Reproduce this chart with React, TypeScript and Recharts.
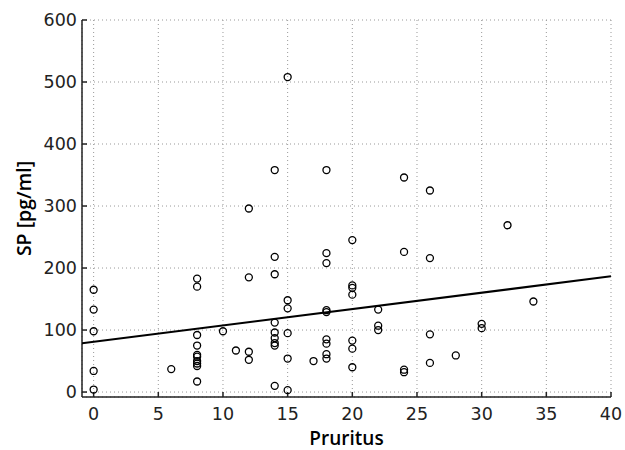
import React from "react";
import {
  CartesianGrid,
  Label,
  Scatter,
  ScatterChart,
  XAxis,
  YAxis,
} from "recharts";

// pruritus score per patient, with matching substance P level (pg/ml)
const PRURITUS = [
  0, 0, 0, 0, 0,
  6,
  8, 8, 8, 8, 8, 8, 8, 8, 8, 8,
  10, 11,
  12, 12, 12, 12,
  14, 14, 14, 14, 14, 14, 14, 14, 14,
  15, 15, 15, 15, 15, 15,
  17,
  18, 18, 18, 18, 18, 18, 18, 18, 18,
  20, 20, 20, 20, 20, 20, 20,
  22, 22, 22,
  24, 24, 24, 24,
  26, 26, 26, 26,
  28, 30, 30, 32, 34,
];
const SP = [
  165, 133, 98, 34, 4,
  37,
  183, 170, 92, 75, 60, 57, 50, 46, 42, 17,
  98, 67,
  296, 185, 65, 52,
  358, 218, 190, 112, 96, 87, 79, 75, 10,
  508, 148, 135, 95, 54, 3,
  50,
  358, 224, 208, 132, 129, 85, 78, 61, 54,
  245, 172, 168, 157, 83, 70, 40,
  133, 107, 100,
  346, 226, 36, 32,
  325, 216, 93, 47,
  59, 110, 103, 269, 146,
];

// linear fit endpoints, drawn edge to edge
const FIT_X = [-0.9, 40];
const FIT_Y = [78.6, 186.6];

const X_TICKS = [0, 5, 10, 15, 20, 25, 30, 35, 40];
const Y_TICKS = [0, 100, 200, 300, 400, 500, 600];

const points = PRURITUS.map((x, i) => ({ x, y: SP[i] }));
const fit = FIT_X.map((x, i) => ({ x, y: FIT_Y[i] }));

const FONT = "'Open Sans', sans-serif";
const TICK_FONT = "'DejaVu Sans', sans-serif";
const AXIS = "#222";

const Ring = (props: any) => (
  <circle cx={props.cx} cy={props.cy} r={3.5} fill="none" stroke="#000" strokeWidth={1.3} />
);

const XTick = (props: any) => (
  <text x={props.x} y={props.y} dy="0.71em" textAnchor="middle" fontFamily={TICK_FONT} fontSize={17.5} fill="#222">
    {props.payload.value}
  </text>
);

const YTick = (props: any) => (
  <text x={props.x} y={props.y} dy="0.36em" textAnchor="end" fontFamily={TICK_FONT} fontSize={17.5} fill="#222">
    {props.payload.value}
  </text>
);

export default function App() {
  return (
    <div style={{ position: "absolute", left: 0, top: 0, background: "#fff" }}>
      <ScatterChart width={625} height={450} margin={{ top: 20, right: 14, bottom: 0, left: 0 }}>
        <CartesianGrid stroke="#999" strokeDasharray="1 3" />
        <XAxis
          type="number"
          dataKey="x"
          domain={[-0.9, 40]}
          ticks={X_TICKS}
          allowDataOverflow
          height={53}
          stroke={AXIS}
          strokeWidth={1.5}
          tickSize={-5}
          tickMargin={16}
          tick={<XTick />}
        >
          <Label
            value="Pruritus"
            position="insideBottom"
            offset={5}
            style={{ fontFamily: FONT, fontSize: 19, fontWeight: 600, fill: "#000" }}
          />
        </XAxis>
        <XAxis
          xAxisId="top"
          orientation="top"
          type="number"
          domain={[-0.9, 40]}
          ticks={X_TICKS}
          allowDataOverflow
          height={0}
          stroke={AXIS}
          strokeWidth={1.5}
          tickSize={-5}
          tick={false}
        />
        <YAxis
          type="number"
          dataKey="y"
          domain={[-8, 600]}
          ticks={Y_TICKS}
          allowDataOverflow
          width={82}
          stroke={AXIS}
          strokeWidth={1.5}
          tickSize={-5}
          tickMargin={10}
          tick={<YTick />}
        >
          <Label
            value="SP [pg/ml]"
            angle={-90}
            position="insideLeft"
            offset={24}
            style={{ fontFamily: FONT, fontSize: 19.5, fontWeight: 600, fill: "#000", textAnchor: "middle" }}
          />
        </YAxis>
        <YAxis
          yAxisId="right"
          orientation="right"
          type="number"
          domain={[-8, 600]}
          ticks={Y_TICKS}
          allowDataOverflow
          width={0}
          stroke={AXIS}
          strokeWidth={1.5}
          tickSize={-5}
          tick={false}
        />
        <Scatter data={points} shape={Ring} isAnimationActive={false} />
        <Scatter
          data={fit}
          line={{ stroke: "#000", strokeWidth: 2 }}
          shape={() => null}
          isAnimationActive={false}
        />
      </ScatterChart>
    </div>
  );
}
